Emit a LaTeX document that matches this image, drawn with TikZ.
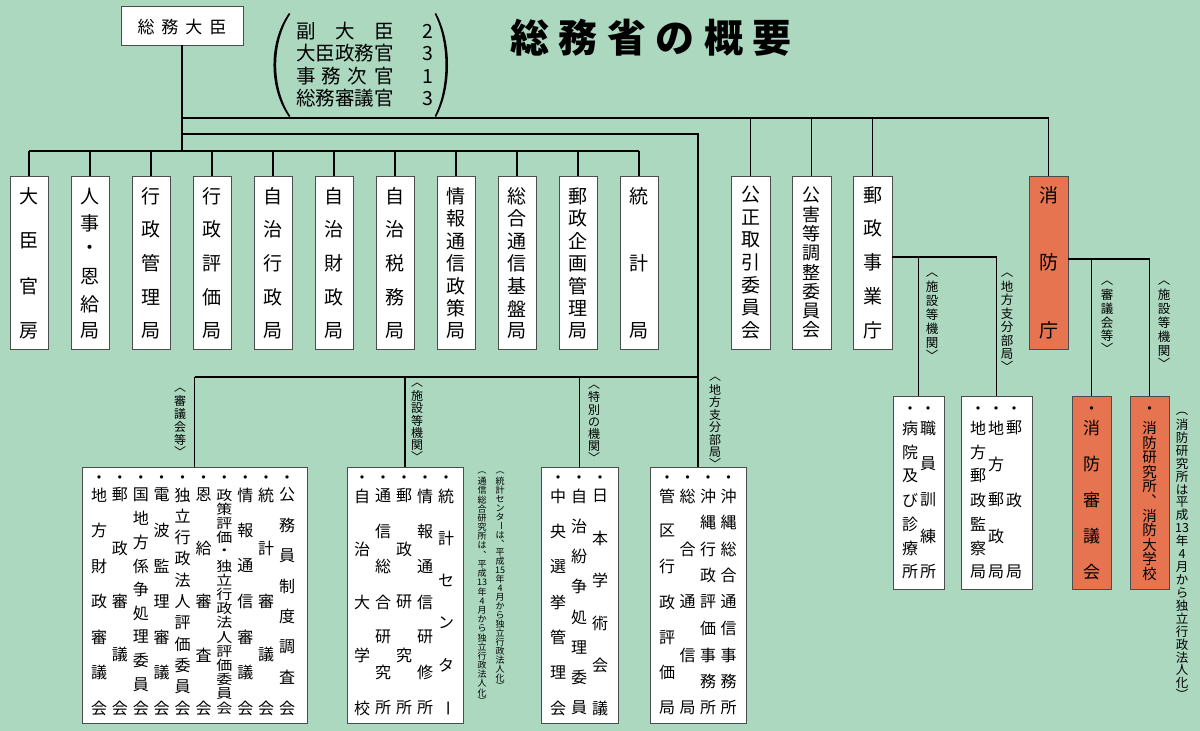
\documentclass[tikz,border=0pt]{standalone}
\usepackage{fontspec}
\setmainfont{Noto Sans CJK JP}
\definecolor{bg}{RGB}{172,216,192}
\definecolor{fire}{RGB}{230,116,80}
\newcount\vcn
\newcommand\fs[1]{\fontsize{#1pt}{#1pt}\selectfont}
\newcommand\vcwrap[1]{#1}
\newcommand\squash[1]{\scalebox{1}[0.85]{#1}}
\newcommand\cho{\rotatebox[origin=c]{-90}{ー}}
\newcommand\vcm{\smash{\raisebox{-0.4em}{︑}}}
% vertical justified column: [style]{name}{x}{y first}{y last}{list}
\newcommand\vcol[6][]{%
  \global\vcn=0
  \foreach \c in {#6}{\global\advance\vcn by 1}%
  \pgfmathsetmacro\vcstep{(#5-#4)/max(\the\vcn-1,1)}%
  \foreach \c [count=\i from 0] in {#6}{%
    \node[chr,#1] (#2-\i) at ({#3},{#4+\vcstep*\i}) {\vcwrap{\c}};}%
}
% vertical label with brackets: [style]{name}{x}{y1}{y2}{open}{close}{list}
\newcommand\vlab[8][]{%
  \global\vcn=0
  \foreach \c in {#8}{\global\advance\vcn by 1}%
  \pgfmathsetmacro\vcstep{(#5-#4)/(\the\vcn+1)}%
  \node[chr,#1] (#2-o) at ({#3},{#4+0.15*\vcstep}) {#6};
  \foreach \c [count=\i from 1] in {#8}{%
    \node[chr,#1] (#2-\i) at ({#3},{#4+\vcstep*\i}) {\c};}%
  \node[chr,#1] (#2-c) at ({#3},{#5-0.15*\vcstep}) {#7};
}
\begin{document}
\begin{tikzpicture}[x=1pt,y=-1pt,
  chr/.style={inner sep=0pt,outer sep=0pt},
  bt/.style={font=\fs{19}},
  lt/.style={font=\fs{16}},
  lab/.style={font=\fs{12}},
  labb/.style={font=\fs{12.5}},
  note/.style={font=\fs{9}},
  box/.style={draw=black!70,line width=1pt,fill=white,inner sep=0pt,outer sep=0pt},
  firebox/.style={box,fill=fire},
  conn/.style={line width=1.4pt,draw=black}]
\useasboundingbox (0,0) rectangle (1200,731);
\fill[bg] (0,0) rectangle (1200,731);

% ---------- boxes ----------
\node[box,minimum width=122,minimum height=39] (min) at (182,25.5) {};
\foreach \k in {1,...,11}
  \node[box,minimum width=38,minimum height=173] (b\k) at ({29+61*(\k-1)},262.5) {};
\node[box,minimum width=39,minimum height=173] (r1) at (750.5,262.5) {};
\node[box,minimum width=39,minimum height=173] (r2) at (811.5,262.5) {};
\node[box,minimum width=39,minimum height=173] (r3) at (872.5,262.5) {};
\node[firebox,minimum width=39,minimum height=173] (r4) at (1048.5,262.5) {};
\node[box,minimum width=225,minimum height=256] (lA) at (194.5,595) {};
\node[box,minimum width=116,minimum height=256] (lB) at (405,595) {};
\node[box,minimum width=77,minimum height=256] (lC) at (579.5,595) {};
\node[box,minimum width=96,minimum height=256] (lD) at (698,595) {};
\node[box,minimum width=51,minimum height=193] (e1) at (918.5,492.5) {};
\node[box,minimum width=71,minimum height=193] (e2) at (996.5,492.5) {};
\node[firebox,minimum width=39,minimum height=193] (f1) at (1091.5,492.5) {};
\node[firebox,minimum width=39,minimum height=193] (f2) at (1149.5,492.5) {};

% ---------- connectors ----------
\coordinate (busB) at (182,151);
\coordinate (busR) at (182,118);
\coordinate (busL) at (182,134);
\coordinate (busLow) at (698,377);
\coordinate (busY) at (892,257);
\coordinate (busF) at (1068,259);
\draw[conn] (min.south) -- (busB);
\draw[conn] (b1.north |- busB) -- (b11.north |- busB);
\foreach \k in {1,...,11} \draw[conn] (b\k.north |- busB) -- (b\k.north);
\draw[conn] (busR) -| (r4.north);
\foreach \k in {1,2,3} \draw[conn] (r\k.north |- busR) -- (r\k.north);
\draw[conn] (busL) -| (lD.north);
\draw[conn] (lA.north |- busLow) -- (busLow);
\foreach \k in {A,B,C} \draw[conn] (l\k.north |- busLow) -- (l\k.north);
\draw[conn] (r3.east |- busY) -| (e2.north);
\draw[conn] (e1.north |- busY) -- (e1.north);
\draw[conn] (r4.east |- busF) -| (f2.north);
\draw[conn] (f1.north |- busF) -- (f1.north);

% ---------- top texts ----------
\node[chr,font=\fs{17}] (mint) at (182,27) {総\hspace{7pt}務\hspace{7pt}大\hspace{7pt}臣};
\node[chr,font=\fs{19.5},anchor=base west] (v1) at (296,38.4) {\makebox[5em][s]{副\hfil 大\hfil 臣}};
\node[chr,font=\fs{19.5},anchor=base west] (v2) at (296,60.9) {大臣政務官};
\node[chr,font=\fs{19.5},anchor=base west] (v3) at (296,83.4) {\makebox[5em][s]{事\hfil 務\hfil 次\hfil 官}};
\node[chr,font=\fs{19.5},anchor=base west] (v4) at (296,105.9) {総務審議官};
\node[chr,font=\fs{19.5},anchor=base] (n1) at (428,38.4) {2};
\node[chr,font=\fs{19.5},anchor=base] (n2) at (428,60.9) {3};
\node[chr,font=\fs{19.5},anchor=base] (n3) at (428,83.4) {1};
\node[chr,font=\fs{19.5},anchor=base] (n4) at (428,105.9) {3};
\fill (289,13) .. controls (268.3,42) and (268.3,88) .. (289,117) -- (290.3,116) .. controls (271.5,88) and (271.5,42) .. (290.3,14) -- cycle;
\fill (436,13) .. controls (452,42) and (452,88) .. (436,117) -- (434.7,116) .. controls (449,88) and (449,42) .. (434.7,14) -- cycle;
\node[chr,font=\bfseries\fs{39}] (title) at (651,37.5) {\makebox[282pt][s]{総\hfil 務\hfil 省\hfil の\hfil 概\hfil 要}};

% ---------- bureau texts ----------
\vcol[bt]{t1}{29}{196}{331}{大,臣,官,房}
\vcol[bt]{t2}{90}{196}{331}{人,事,・,恩,給,局}
\vcol[bt]{t3}{151}{196}{331}{行,政,管,理,局}
\vcol[bt]{t4}{212}{196}{331}{行,政,評,価,局}
\vcol[bt]{t5}{273}{196}{331}{自,治,行,政,局}
\vcol[bt]{t6}{334}{196}{331}{自,治,財,政,局}
\vcol[bt]{t7}{395}{196}{331}{自,治,税,務,局}
\vcol[bt]{t8}{456}{196}{331}{情,報,通,信,政,策,局}
\vcol[bt]{t9}{517}{196}{331}{総,合,通,信,基,盤,局}
\vcol[bt]{t10}{578}{196}{331}{郵,政,企,画,管,理,局}
\vcol[bt]{t11}{639}{196}{331}{統,計,局}
\vcol[bt]{t12}{750.5}{195}{330}{公,正,取,引,委,員,会}
\vcol[bt,font=\fs{18}]{t13}{811.5}{195}{330}{公,害,等,調,整,委,員,会}
\vcol[bt]{t14}{872.5}{195}{330}{郵,政,事,業,庁}
\vcol[bt]{t15}{1048.5}{195}{330}{消,防,庁}

% ---------- branch labels ----------
\vlab[lab]{la}{180}{388}{453}{︿}{﹀}{審,議,会,等}
\vlab[lab]{lb}{417}{383}{458}{︿}{﹀}{施,設,等,機,関}
\vlab[lab]{lc}{594}{385}{459}{︿}{﹀}{特,別,の,機,関}
\vlab[lab]{ld}{715}{377}{465}{︿}{﹀}{地,方,支,分,部,局}
\vlab[labb]{le}{932}{273}{357}{︿}{﹀}{施,設,等,機,関}
\vlab[labb]{lf}{1007}{273}{368}{︿}{﹀}{地,方,支,分,部,局}
\vlab[labb]{lg}{1107}{281}{350}{︿}{﹀}{審,議,会,等}
\vlab[labb]{lh}{1164}{281}{365}{︿}{﹀}{施,設,等,機,関}

% ---------- notes ----------
\vlab[note]{na}{500}{472}{687}{︵}{︶}{統,計,セ,ン,タ,\cho,は,\vcm,平,成,15,年,4,月,か,ら,独,立,行,政,法,人,化}
\vlab[note]{nb}{482}{472}{702}{︵}{︶}{通,信,総,合,研,究,所,は,\vcm,平,成,13,年,4,月,か,ら,独,立,行,政,法,人,化}
\vlab[labb]{nc}{1182}{412}{696}{︵}{︶}{消,防,研,究,所,は,平,成,13,年,4,月,か,ら,独,立,行,政,法,人,化}

% ---------- lower box A ----------
\foreach \x [count=\i] in {99,119.9,140.8,161.7,182.6,203.5,224.4,245.3,266.2,287.1}
  \node[chr,lt] (dA-\i) at (\x,480) {・};
\vcol[lt]{a1}{99}{495}{708}{地,方,財,政,審,議,会}
\vcol[lt]{a2}{119.9}{495}{708}{郵,政,審,議,会}
\vcol[lt]{a3}{140.8}{495}{708}{国,地,方,係,争,処,理,委,員,会}
\vcol[lt]{a4}{161.7}{495}{708}{電,波,監,理,審,議,会}
\vcol[lt]{a5}{182.6}{495}{708}{独,立,行,政,法,人,評,価,委,員,会}
\vcol[lt]{a6}{203.5}{495}{708}{恩,給,審,査,会}
\let\vcwrap\squash
\vcol[lt]{a7}{224.4}{495}{708}{政,策,評,価,・,独,立,行,政,法,人,評,価,委,員,会}
\renewcommand\vcwrap[1]{#1}
\vcol[lt]{a8}{245.3}{495}{708}{情,報,通,信,審,議,会}
\vcol[lt]{a9}{266.2}{495}{708}{統,計,審,議,会}
\vcol[lt]{a10}{287.1}{495}{708}{公,務,員,制,度,調,査,会}

% ---------- lower box B ----------
\foreach \x [count=\i] in {362,383,404,425,446}
  \node[chr,lt] (dB-\i) at (\x,480) {・};
\vcol[lt]{bb1}{362}{496}{708}{自,治,大,学,校}
\vcol[lt]{bb2}{383}{496}{708}{通,信,総,合,研,究,所}
\vcol[lt]{bb3}{404}{496}{708}{郵,政,研,究,所}
\vcol[lt]{bb4}{425}{496}{708}{情,報,通,信,研,修,所}
\vcol[lt]{bb5}{446}{496}{708}{統,計,セ,ン,タ,\cho}

% ---------- lower box C ----------
\foreach \x [count=\i] in {558,579,600}
  \node[chr,lt] (dC-\i) at (\x,480) {・};
\vcol[lt]{c1}{558}{496}{708}{中,央,選,挙,管,理,会}
\vcol[lt]{c2}{579}{496}{708}{自,治,紛,争,処,理,委,員}
\vcol[lt]{c3}{600}{496}{708}{日,本,学,術,会,議}

% ---------- lower box D ----------
\foreach \x [count=\i] in {667,687.5,708,728.5}
  \node[chr,lt] (dD-\i) at (\x,480) {・};
\vcol[lt]{d1}{667}{496}{708}{管,区,行,政,評,価,局}
\vcol[lt]{d2}{687.5}{496}{708}{総,合,通,信,局}
\vcol[lt]{d3}{708}{496}{708}{沖,縄,行,政,評,価,事,務,所}
\vcol[lt]{d4}{728.5}{496}{708}{沖,縄,総,合,通,信,事,務,所}

% ---------- 郵政事業庁 subordinate ----------
\foreach \x [count=\i] in {910,928,978,996,1014}
  \node[chr,lt] (dE-\i) at (\x,411) {・};
\vcol[lt]{e1t}{910}{428}{572}{病,院,及,び,診,療,所}
\vcol[lt]{e2t}{928}{428}{572}{職,員,訓,練,所}
\vcol[lt]{f1t}{978}{428}{572}{地,方,郵,政,監,察,局}
\vcol[lt]{f2t}{996}{428}{572}{地,方,郵,政,局}
\vcol[lt]{f3t}{1014}{428}{572}{郵,政,局}

% ---------- 消防庁 subordinate ----------
\node[chr,lt] (dG-1) at (1091.5,411) {・};
\node[chr,lt] (dG-2) at (1149.5,411) {・};
\vcol[lt,font=\fs{17}]{g1}{1091.5}{428}{572}{消,防,審,議,会}
\vcol[lt,font=\fs{14.5}]{g2}{1149.5}{428}{574}{消,防,研,究,所,\vcm,消,防,大,学,校}
\end{tikzpicture}
\end{document}
